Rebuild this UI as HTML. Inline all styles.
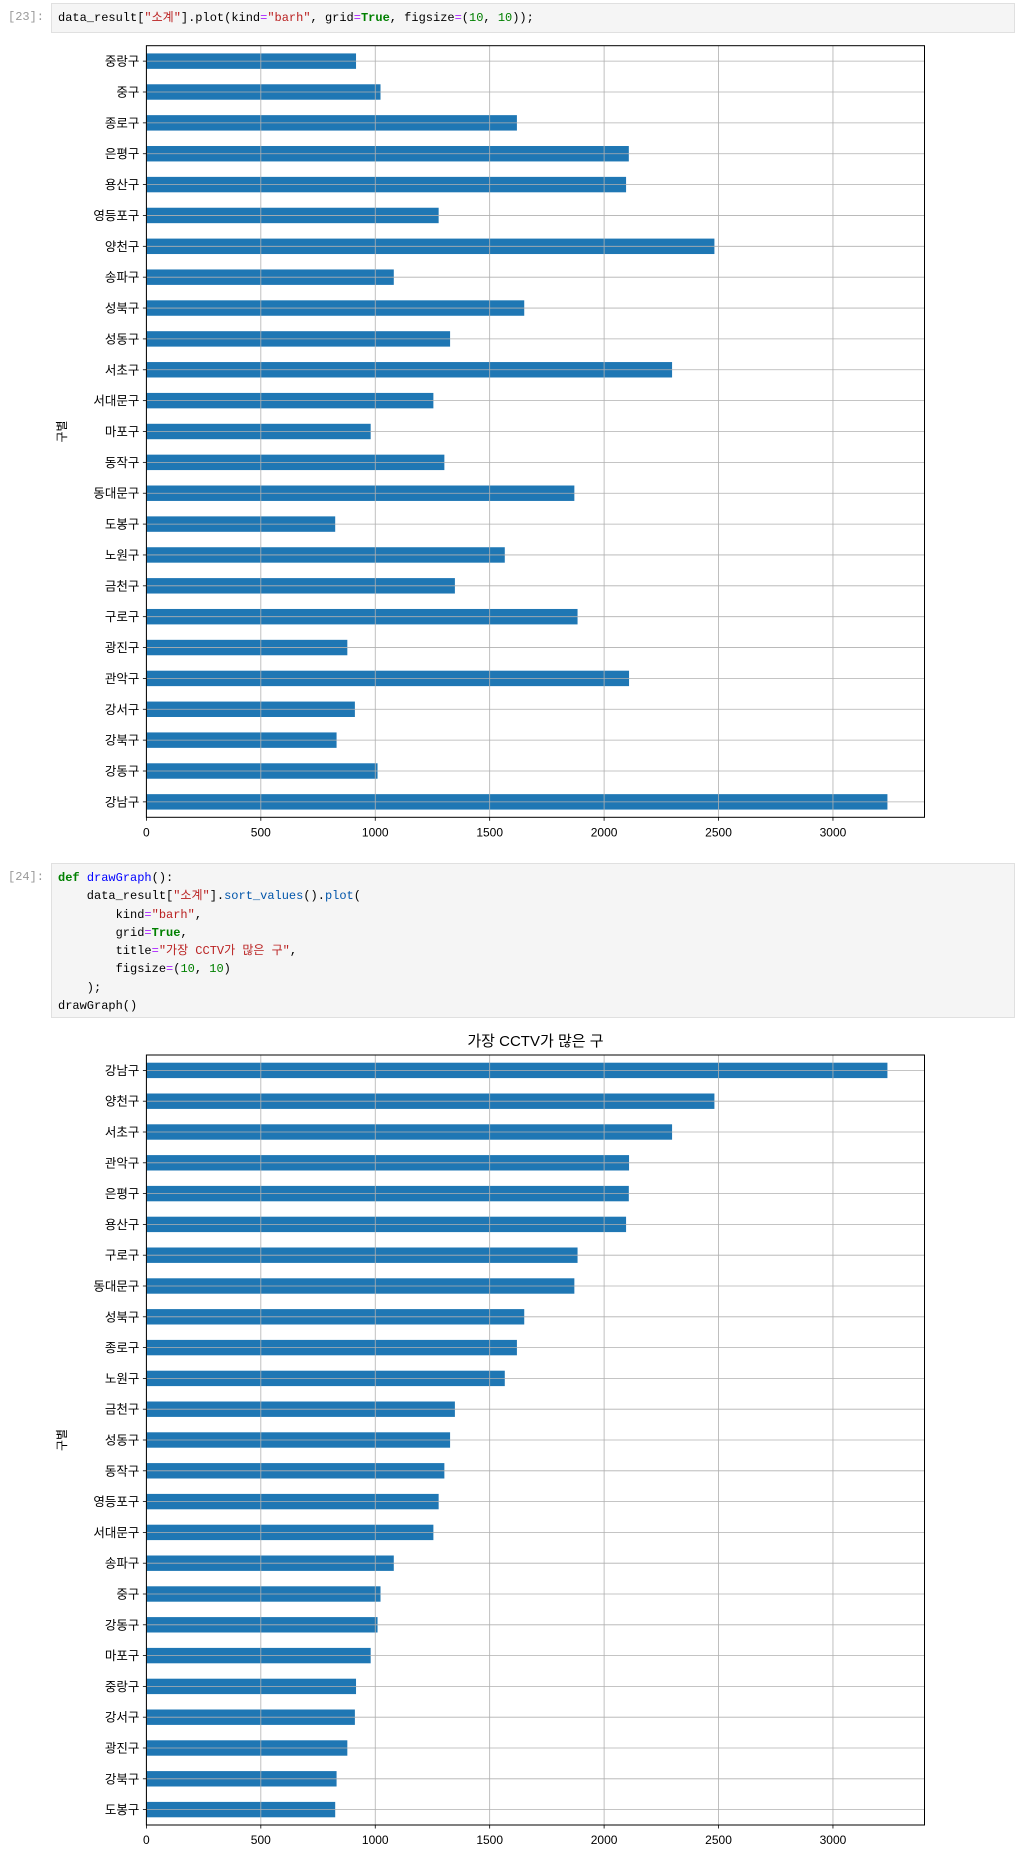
<!DOCTYPE html>
<html><head><meta charset="utf-8">
<style>
body{margin:0;background:#fff;width:1015px;height:1849px;overflow:hidden;position:relative;font-family:"Liberation Sans","Noto Sans CJK KR",sans-serif}
.prompt{position:absolute;left:8px;color:#999;font:12px "Liberation Mono","Noto Sans CJK KR",monospace}
.cell{position:absolute;left:51px;right:0;background:#f5f5f5;border:1px solid #e0e0e0;box-sizing:border-box;font:12px/18.3px "Liberation Mono","Noto Sans CJK KR",monospace;color:#000;padding:5px 6px;white-space:pre}
.k{color:#008000;font-weight:bold}.s{color:#ba2121}.n{color:#008000}.f{color:#0000ff}.o{color:#aa22ff}.m{color:#0055aa}
svg{position:absolute;left:0}
</style></head><body>
<div class="prompt" style="top:10px">[23]:</div>
<div class="cell" style="top:3px;height:30px;padding-top:5px">data_result[<span class="s">"소계"</span>].plot(kind<span class="o">=</span><span class="s">"barh"</span>, grid<span class="o">=</span><span class="k">True</span>, figsize<span class="o">=</span>(<span class="n">10</span>, <span class="n">10</span>));</div>
<svg id="c1" width="1015" height="860" style="top:0"></svg>
<div class="prompt" style="top:870px">[24]:</div>
<div class="cell" style="top:863px;height:155px;padding-top:5px"><span class="k">def</span> <span class="f">drawGraph</span>():
    data_result[<span class="s">"소계"</span>].<span class="m">sort_values</span>().<span class="m">plot</span>(
        kind<span class="o">=</span><span class="s">"barh"</span>,
        grid<span class="o">=</span><span class="k">True</span>,
        title<span class="o">=</span><span class="s">"가장 CCTV가 많은 구"</span>,
        figsize<span class="o">=</span>(<span class="n">10</span>, <span class="n">10</span>)
    );
drawGraph()</div>
<svg id="c2" width="1015" height="849" style="top:1000px"></svg>
<script>
const namesA=["강남구","강동구","강북구","강서구","관악구","광진구","구로구","금천구","노원구","도봉구","동대문구","동작구","마포구","서대문구","서초구","성동구","성북구","송파구","양천구","영등포구","용산구","은평구","종로구","중구","중랑구"];
const valuesA=[3238,1010,831,911,2109,878,1884,1348,1566,825,1870,1302,980,1254,2297,1327,1651,1081,2482,1277,2096,2108,1619,1023,916];
const xTicks=[0,500,1000,1500,2000,2500,3000];
const xMax=3400;
const ns="http://www.w3.org/2000/svg";
function el(p,t,a){const e=document.createElementNS(ns,t);for(const k in a)e.setAttribute(k,a[k]);p.appendChild(e);return e;}
function draw(svg,names,vals,top,bottom,title){
  const L=146.4,R=924.5,n=names.length,bw=(bottom-top)/n;
  const x=v=>L+(v/xMax)*(R-L);
  const y=i=>bottom-(i+0.5)*bw;
  if(title){const t=el(svg,'text',{x:(L+R)/2,y:top-9,'text-anchor':'middle','font-size':15,fill:'#000'});t.textContent=title;
    
    }
  names.forEach((nm,i)=>{const r=el(svg,'rect',{x:L,y:y(i)-bw*0.25,width:x(vals[i])-L,height:bw*0.5,fill:'#1f77b4'});
    
    });
  xTicks.forEach(v=>{const g=el(svg,'line',{x1:x(v),x2:x(v),y1:top,y2:bottom,stroke:'#b0b0b0','stroke-width':0.8});
    
    
    el(svg,'line',{x1:x(v),x2:x(v),y1:bottom,y2:bottom+3.5,stroke:'#000','stroke-width':0.8});
    const t=el(svg,'text',{x:x(v),y:bottom+19,'text-anchor':'middle','font-size':12});t.textContent=v;
    
    });
  names.forEach((nm,i)=>{el(svg,'line',{x1:L,x2:R,y1:y(i),y2:y(i),stroke:'#b0b0b0','stroke-width':0.8});
    el(svg,'line',{x1:L-3.5,x2:L,y1:y(i),y2:y(i),stroke:'#000','stroke-width':0.8});
    const t=el(svg,'text',{x:L-7,y:y(i)+4.5,'text-anchor':'end','font-size':12.5});t.textContent=nm;
    
    });
  el(svg,'rect',{x:L,y:top,width:R-L,height:bottom-top,fill:'none',stroke:'#000','stroke-width':1});
  const yl=el(svg,'text',{x:0,y:0,'text-anchor':'middle','font-size':12,transform:`translate(66,${(top+bottom)/2}) rotate(-90)`});yl.textContent='구별';
  
  
}
const c1=document.getElementById('c1');
const rev=namesA.map((n,i)=>i);
draw(c1,namesA,valuesA,45.7,817.3,null);
const idx=namesA.map((n,i)=>i).sort((a,b)=>valuesA[a]-valuesA[b]);
draw(document.getElementById('c2'),idx.map(i=>namesA[i]),idx.map(i=>valuesA[i]),55,825,'가장 CCTV가 많은 구');
</script>
</body></html>
